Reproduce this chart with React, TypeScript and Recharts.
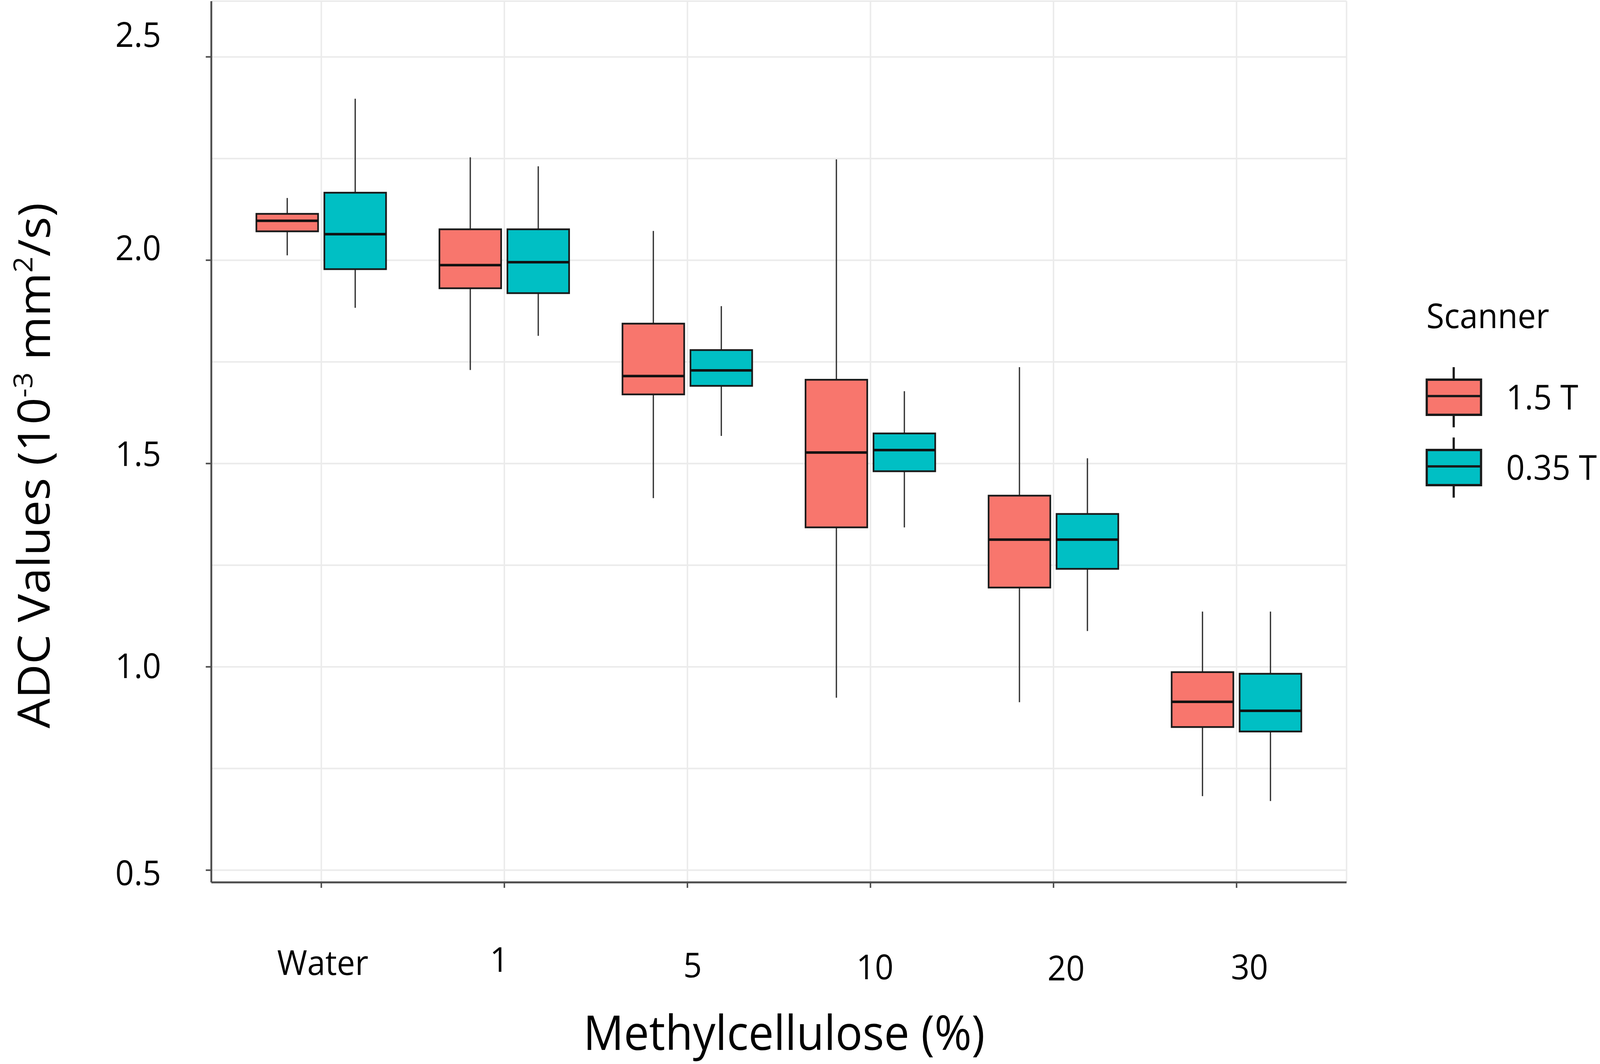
import { Bar, CartesianGrid, ComposedChart, Legend, XAxis, YAxis } from 'recharts'

const CATEGORIES = ['Water', '1', '5', '10', '20', '30']

// 1.5 T scanner: lower whisker, Q1, median, Q3, upper whisker
const HIGH_MIN = [2.012, 1.73, 1.415, 0.924, 0.913, 0.682]
const HIGH_Q1 = [2.071, 1.931, 1.67, 1.343, 1.195, 0.852]
const HIGH_MED = [2.097, 1.988, 1.715, 1.527, 1.313, 0.914]
const HIGH_Q3 = [2.114, 2.076, 1.844, 1.706, 1.421, 0.987]
const HIGH_MAX = [2.153, 2.253, 2.072, 2.248, 1.737, 1.136]

// 0.35 T scanner
const LOW_MIN = [1.883, 1.814, 1.568, 1.343, 1.088, 0.67]
const LOW_Q1 = [1.978, 1.919, 1.691, 1.481, 1.241, 0.841]
const LOW_MED = [2.064, 1.995, 1.729, 1.533, 1.313, 0.892]
const LOW_Q3 = [2.166, 2.076, 1.779, 1.574, 1.376, 0.983]
const LOW_MAX = [2.397, 2.231, 1.887, 1.678, 1.513, 1.136]

const Y_MAJOR = [0.5, 1, 1.5, 2, 2.5]
const Y_MINOR = [0.75, 1.25, 1.75, 2.25]
const Y_TICKS = [...Y_MAJOR, ...Y_MINOR].sort((a, b) => a - b)
const Y_DOMAIN = [0.47, 2.637]

const SERIES = [
  { key: 'high', name: '1.5 T', fill: '#F8766D' },
  { key: 'low', name: '0.35 T', fill: '#00BFC4' },
]

const W = 4331
const H = 2724
const FONT = '"Open Sans", "Noto Sans", sans-serif'
const AXIS = '#4d4d4d'
const GRID = '#ebebeb'
const EDGE = '#1a1a1a'

// the labels in the source figure sit a little off their ticks
const X_LABEL_NUDGE = [[4, 0], [-14, -8], [14, 6], [12, 11], [34, 14], [35, 11]]
const Y_LABEL_NUDGE: Record<string, number> = { '0.5': 4, '1': -6, '1.5': -28, '2': -35, '2.5': -60 }

const data = CATEGORIES.map((name, i) => ({
  name,
  high: { min: HIGH_MIN[i], q1: HIGH_Q1[i], med: HIGH_MED[i], q3: HIGH_Q3[i], max: HIGH_MAX[i] },
  low: { min: LOW_MIN[i], q1: LOW_Q1[i], med: LOW_MED[i], q3: LOW_Q3[i], max: LOW_MAX[i] },
}))

function BoxShape(props: any) {
  const { x, y, width, height, stats, color } = props
  if (!stats) return null
  const top = Math.min(y, y + height)
  const bottom = Math.max(y, y + height)
  const span = stats.max - stats.min
  // the bar spans min..max on the y scale; place the quartiles inside it
  const py = (v: number) => bottom - ((v - stats.min) / span) * (bottom - top)
  const cx = x + width / 2
  return (
    <g>
      <line x1={cx} x2={cx} y1={top} y2={bottom} stroke='#333' strokeWidth={3.5} />
      <rect
        x={x}
        y={py(stats.q3)}
        width={width}
        height={py(stats.q1) - py(stats.q3)}
        fill={color}
        stroke={EDGE}
        strokeWidth={4.5}
      />
      <line x1={x} x2={x + width} y1={py(stats.med)} y2={py(stats.med)} stroke='#111' strokeWidth={6.5} />
    </g>
  )
}

function XTick({ x, y, payload }: any) {
  const i = CATEGORIES.indexOf(String(payload.value))
  const [dx, dy] = X_LABEL_NUDGE[i] ?? [0, 0]
  return (
    <g>
      <line x1={x} x2={x} y1={y} y2={y + 14} stroke={AXIS} strokeWidth={4} />
      <text
        x={x + dx}
        y={y + 203 + dy}
        textAnchor='middle'
        dominantBaseline='central'
        fontSize={88}
        fontFamily={FONT}
        fill='#000'
      >
        {payload.value}
      </text>
    </g>
  )
}

function YTick({ x, y, payload }: any) {
  const v = Number(payload.value)
  if (!Y_MAJOR.includes(v)) return <g />
  return (
    <g>
      <line x1={x - 15} x2={x} y1={y} y2={y} stroke={AXIS} strokeWidth={4} />
      <text
        x={x - 136}
        y={y + (Y_LABEL_NUDGE[String(v)] ?? 0)}
        textAnchor='end'
        dominantBaseline='central'
        fontSize={88}
        fontFamily={FONT}
        fill='#000'
      >
        {v.toFixed(1)}
      </text>
    </g>
  )
}

function YTitle({ viewBox }: any) {
  const vb = viewBox ?? { x: 0, y: 3, width: 572, height: 2256 }
  const cx = vb.x + 88
  const cy = vb.y + vb.height / 2 + 61
  return (
    <text
      x={cx}
      y={cy}
      transform={`rotate(-90 ${cx} ${cy})`}
      textAnchor='middle'
      dominantBaseline='central'
      fontSize={121}
      fontFamily={FONT}
      fill='#000'
    >
      ADC Values (10
      <tspan dy={-28} fontSize={72}>-3</tspan>
      <tspan dy={28}> mm</tspan>
      <tspan dy={-28} fontSize={72}>2</tspan>
      <tspan dy={28}>/s)</tspan>
    </text>
  )
}

function XTitle({ viewBox }: any) {
  const vb = viewBox ?? { x: 572, y: 2259, width: 3073, height: 465 }
  return (
    <text
      x={vb.x + vb.width / 2 + 14}
      y={vb.y + 382}
      textAnchor='middle'
      dominantBaseline='central'
      fontSize={122}
      fontFamily={FONT}
      fill='#000'
    >
      Methylcellulose (%)
    </text>
  )
}

function ScannerLegend() {
  return (
    <div style={{ position: 'absolute', left: 3855, top: 740 }}>
      <svg width={470} height={560} style={{ overflow: 'visible' }}>
        <text x={6} y={100} fontSize={88} fontFamily={FONT} fill='#000'>
          Scanner
        </text>
        {SERIES.map((s, i) => {
          const boxTop = 232 + i * 180
          return (
            <g key={s.key}>
              <line x1={80} x2={80} y1={boxTop - 32} y2={boxTop + 122} stroke={EDGE} strokeWidth={6} />
              <rect x={7} y={boxTop} width={147} height={90} fill={s.fill} stroke={EDGE} strokeWidth={6} />
              <line x1={7} x2={154} y1={boxTop + 42} y2={boxTop + 42} stroke={EDGE} strokeWidth={6} />
              <text
                x={222}
                y={boxTop + 42}
                dominantBaseline='central'
                fontSize={88}
                fontFamily={FONT}
                fill='#000'
              >
                {s.name}
              </text>
            </g>
          )
        })}
      </svg>
    </div>
  )
}

export default function App() {
  // the browser viewport can come out smaller than the photo size; stretch the drawing to fill it
  const vw = typeof window !== 'undefined' ? window.innerWidth : W
  const vh = typeof window !== 'undefined' ? window.innerHeight : H
  const sx = Math.min(vw / W, 1)
  const sy = Math.min(vh / H, 1)
  return (
    <div
      style={{
        position: 'absolute',
        left: 0,
        top: 0,
        width: W * sx,
        height: H * sy,
        overflow: 'hidden',
        background: '#fff',
      }}
    >
      <div style={{ transform: `scale(${sx}, ${sy})`, transformOrigin: '0 0', width: W, height: H, fontFamily: FONT }}>
        <ComposedChart
          width={W}
          height={H}
          data={data}
          margin={{ top: 3, right: 686, bottom: 0, left: 0 }}
          barGap={17}
        >
          <CartesianGrid stroke={GRID} strokeWidth={4} />
          <XAxis
            dataKey='name'
            type='category'
            height={465}
            padding={{ left: 50, right: 50 }}
            interval={0}
            tickSize={0}
            tickMargin={0}
            tickLine={false}
            tick={<XTick />}
            axisLine={{ stroke: AXIS, strokeWidth: 5 }}
            label={<XTitle />}
          />
          <XAxis
            xAxisId='top'
            dataKey='name'
            orientation='top'
            height={0}
            tick={false}
            tickLine={false}
            axisLine={{ stroke: AXIS, strokeWidth: 5 }}
          />
          <YAxis
            type='number'
            width={572}
            domain={Y_DOMAIN}
            allowDataOverflow
            ticks={Y_TICKS}
            interval={0}
            tickSize={0}
            tickMargin={0}
            tickLine={false}
            tick={<YTick />}
            axisLine={{ stroke: AXIS, strokeWidth: 5 }}
            label={<YTitle />}
          />
          <YAxis
            yAxisId='right'
            orientation='right'
            type='number'
            width={0}
            domain={Y_DOMAIN}
            allowDataOverflow
            tick={false}
            tickLine={false}
            axisLine={{ stroke: AXIS, strokeWidth: 5 }}
          />
          {SERIES.map((ser) => (
            <Bar
              key={ser.key}
              name={ser.name}
              dataKey={(row: any) => [row[ser.key].min, row[ser.key].max]}
              fill={ser.fill}
              barSize={167}
              isAnimationActive={false}
              shape={(p: any) => <BoxShape {...p} stats={p.payload?.[ser.key]} color={ser.fill} />}
            />
          ))}
          <Legend
            layout='horizontal'
            verticalAlign='top'
            align='center'
            wrapperStyle={{ left: 0, top: 0, width: 0, height: 0 }}
            content={<ScannerLegend />}
          />
        </ComposedChart>
      </div>
    </div>
  )
}
